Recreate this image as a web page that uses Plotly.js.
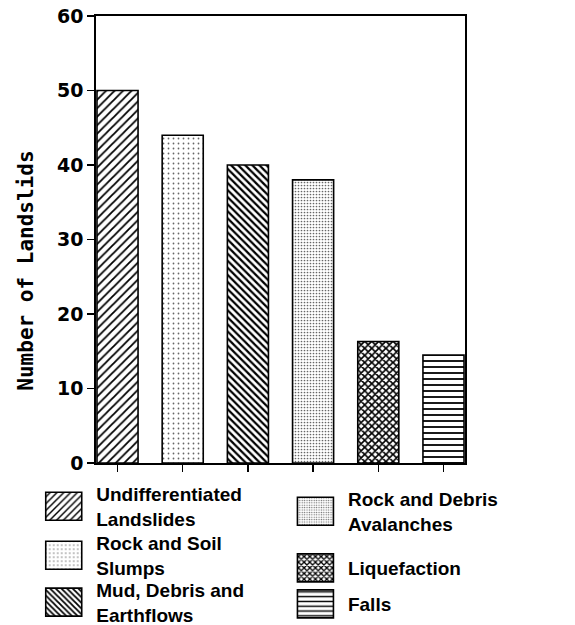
<!DOCTYPE html>
<html>
<head>
<meta charset="utf-8">
<script src="https://cdn.plot.ly/plotly-3.0.1.min.js"></script>
<style>html,body{margin:0;padding:0;background:#fff;}#chart{width:575px;height:625px;}</style>
</head>
<body>
<div id="chart"></div>
<script>
var categories = ['Undifferentiated Landslides', 'Rock and Soil Slumps', 'Mud, Debris and Earthflows', 'Rock and Debris Avalanches', 'Liquefaction', 'Falls'];
var values = [50, 44, 40, 38, 16.3, 14.5];
var legendLabels = ['Undifferentiated<br>Landslides', 'Rock and Soil<br>Slumps', 'Mud, Debris and<br>Earthflows', 'Rock and Debris<br>Avalanches', 'Liquefaction', 'Falls'];
var legendIds = ['legend', 'legend2', 'legend3', 'legend4', 'legend5', 'legend6'];
var yTicks = [0, 10, 20, 30, 40, 50, 60];

var patterns = [
  {shape: '/', size: 6, solidity: 0.3, fgcolor: '#000'},
  {shape: '.', size: 5, solidity: 0.1, fgcolor: '#666'},
  {shape: '\\', size: 5, solidity: 0.45, fgcolor: '#000'},
  {shape: '.', size: 3, solidity: 0.25, fgcolor: '#666'},
  {shape: 'x', size: 5, solidity: 0.55, fgcolor: '#000'},
  {shape: '-', size: 6, solidity: 0.3, fgcolor: '#000'}
];

var traces = categories.map(function (c, i) {
  var p = patterns[i];
  return {
    type: 'bar',
    x: [c],
    y: [values[i]],
    name: legendLabels[i],
    width: 0.63,
    legend: legendIds[i],
    marker: {
      color: '#fff',
      line: {color: '#000', width: 1.6},
      pattern: {shape: p.shape, size: p.size, solidity: p.solidity, fgcolor: p.fgcolor, bgcolor: '#fff', fillmode: 'replace'}
    },
    hoverinfo: 'skip'
  };
});

var legFont = {family: 'Liberation Sans, Arial, sans-serif', size: 19, color: '#000', weight: 'bold'};
function legendBox(x, y) {
  return {
    x: x, y: y, xanchor: 'left', yanchor: 'top',
    orientation: 'v', font: legFont, itemwidth: 55,
    bgcolor: 'rgba(0,0,0,0)', valign: 'middle'
  };
}

var layout = {
  width: 575, height: 625,
  margin: {l: 96, r: 110, t: 16, b: 162, autoexpand: false},
  paper_bgcolor: '#fff', plot_bgcolor: '#fff',
  barmode: 'overlay',
  showlegend: true,
  xaxis: {
    type: 'category',
    categoryorder: 'array', categoryarray: categories,
    range: [-0.33, 5.33],
    showgrid: false, zeroline: false,
    showline: true, linecolor: '#000', linewidth: 2, mirror: true,
    ticks: 'outside', ticklen: 7, tickwidth: 1.5, tickcolor: '#000',
    showticklabels: false
  },
  yaxis: {
    range: [0, 60],
    tickvals: yTicks, ticktext: yTicks.map(String),
    showgrid: false, zeroline: false,
    showline: true, linecolor: '#000', linewidth: 1.8, mirror: true,
    ticks: 'outside', ticklen: 7, tickwidth: 1.5, tickcolor: '#000',
    tickfont: {family: 'DejaVu Sans, sans-serif', size: 19, color: '#000', weight: 'bold'}
  },
  legend: legendBox(-0.1755, -0.0268),
  legend2: legendBox(-0.1755, -0.1365),
  legend3: legendBox(-0.1755, -0.2415),
  legend4: legendBox(0.5066, -0.038),
  legend5: legendBox(0.5066, -0.1924),
  legend6: legendBox(0.5066, -0.2729),
  annotations: [{
    text: 'Number of Landslids',
    xref: 'paper', yref: 'paper',
    x: -0.19, y: 0.43, xanchor: 'center', yanchor: 'middle',
    textangle: -90, showarrow: false,
    font: {family: 'DejaVu Sans Mono, monospace', size: 21, color: '#000', weight: 'bold'}
  }]
};

Plotly.newPlot('chart', traces, layout, {displayModeBar: false, staticPlot: true}).then(function () {
  document.querySelectorAll('.legendpoints path').forEach(function (p) {
    p.setAttribute('d', 'M18,14H-18V-14H18Z');
  });
});
</script>
</body>
</html>
